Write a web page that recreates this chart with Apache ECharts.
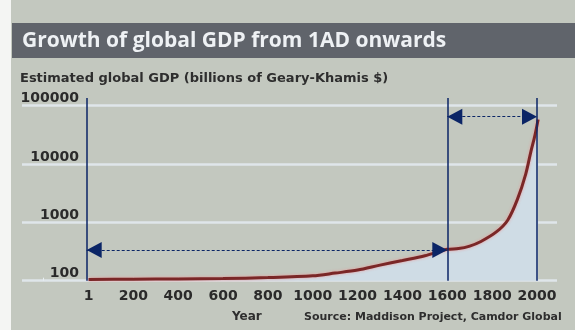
<!DOCTYPE html>
<html>
<head>
<meta charset="utf-8">
<script src="https://cdn.jsdelivr.net/npm/echarts@6/dist/echarts.min.js"></script>
<style>
	html, body { margin: 0; padding: 0; background: #c3c8bf; }
	#container { width: 575px; height: 330px; }
</style>
</head>
<body>
<div id="container"></div>
<script>
// estimated world GDP, billions of Geary-Khamis $
var years = [0, 200, 400, 600, 800, 1000, 1100, 1200, 1300, 1400, 1500, 1600, 1650, 1700, 1750, 1820, 1870, 1913, 1950, 1973, 1990, 2005];
var gdp = [105, 106, 107, 109, 113, 121, 135, 152, 185, 222, 268, 345, 355, 392, 470, 692, 1100, 2500, 6800, 16500, 30000, 58000];
var yTicks = [100, 1000, 10000, 100000];

// annotation lines (year, value)
var vLineYears = [-8, 1600, 2000];
var vLineTop = 135000;
var arrowLow = { from: -8, to: 1600, value: 336 };
var arrowHigh = { from: 1600, to: 2000, value: 64700 };

var navy = '#0b2566';
var fontFam = '"DejaVu Sans", sans-serif';

// one year is 0.22425 px, one decade of GDP is 58.3 px
var pxYear = 0.22425;
var pxDecade = 58.3;
var plotTop = 105.7, plotBottom = 49.3, plotLeft = 88.5, plotRight = 38;

var dom = document.getElementById('container');
var myChart = echarts.init(dom);

var markData = [];
vLineYears.forEach(function (y) {
	markData.push([
		{ coord: [y, 100], symbol: 'none' },
		{ coord: [y, vLineTop], symbol: 'none' }
	]);
});
[arrowLow, arrowHigh].forEach(function (a) {
	markData.push([
		{ coord: [a.from, a.value], lineStyle: { type: [3, 2], width: 1 } },
		{ coord: [a.to, a.value] }
	]);
});

var option = {
	backgroundColor: '#c3c8bf',
	animation: false,
	graphic: [
		{ type: 'rect', left: 0, top: 0, shape: { width: 11, height: 330 }, style: { fill: '#f4f5f3' }, z: -1 },
		{ type: 'rect', left: 12, top: 23, shape: { width: 563, height: 35 }, style: { fill: '#60646b' }, z: -1 }
	],
	title: [
		{
			text: 'Growth of global GDP from 1AD onwards',
			left: 17, top: 26,
			textStyle: { color: '#eef1f4', fontSize: 21, fontWeight: 'bold', fontFamily: '"Open Sans", sans-serif' }
		},
		{
			text: 'Estimated global GDP (billions of Geary-Khamis $)',
			left: 15, top: 67,
			textStyle: { color: '#2e2e2e', fontSize: 13, fontWeight: 'bold', fontFamily: fontFam }
		},
		{
			text: 'Year',
			left: 227, top: 306,
			textStyle: { color: '#2e2e2e', fontSize: 12, fontWeight: 'bold', fontFamily: fontFam }
		},
		{
			text: 'Source: Maddison Project, Camdor Global',
			left: 299, top: 307,
			textStyle: { color: '#2e2e2e', fontSize: 11, fontWeight: 'bold', fontFamily: fontFam }
		}
	],
	grid: [
		{ left: 22, right: 18, top: plotTop, bottom: plotBottom },
		// data grid reaches 200 years left of 1 AD and up to the annotation tops
		{
			left: plotLeft - 200 * pxYear, right: plotRight,
			top: plotTop - Math.log10(vLineTop / 100000) * pxDecade, bottom: plotBottom
		}
	],
	xAxis: [
		{ gridIndex: 0, type: 'value', show: false, min: 0, max: 1 },
		{
			gridIndex: 1, type: 'value', min: -200, max: 2000, interval: 200,
			axisLine: { show: false },
			axisTick: { show: true, inside: true, length: 3, lineStyle: { color: '#e8eef1', width: 1 } },
			splitLine: { show: false },
			axisLabel: {
				margin: 9, color: '#2a2a2a', fontSize: 14, fontWeight: 'bold', fontFamily: fontFam,
				formatter: function (v) { return v < 0 ? '' : (v === 0 ? '1' : String(v)); }
			}
		}
	],
	yAxis: [
		{
			gridIndex: 0, type: 'log', logBase: 10, min: yTicks[0], max: yTicks[yTicks.length - 1],
			axisLine: { show: false },
			axisTick: { show: false },
			splitLine: { show: true, lineStyle: { color: '#dfe6ea', width: 2.5 } },
			axisLabel: {
				inside: true, margin: 57, align: 'right', verticalAlign: 'bottom',
				color: '#2a2a2a', fontSize: 14, fontWeight: 'bold', fontFamily: fontFam,
				showMinLabel: true, showMaxLabel: true,
				formatter: function (v) { return String(Math.round(v)); }
			}
		},
		{ gridIndex: 1, type: 'log', logBase: 10, min: yTicks[0], max: vLineTop, show: false }
	],
	series: [
		{
			type: 'line',
			xAxisIndex: 1, yAxisIndex: 1,
			data: years.map(function (y, i) { return [y, gdp[i]]; }),
			smooth: 0.3,
			showSymbol: false,
			lineStyle: { color: '#7a2727', width: 3, shadowColor: 'rgba(235,150,150,0.9)', shadowBlur: 3 },
			areaStyle: { color: '#cfdce5', origin: 'start', opacity: 1 },
			markLine: {
				silent: true,
				symbol: ['triangle', 'triangle'],
				symbolSize: [16, 15],
				symbolOffset: [[0, 7.5], [0, 7.5]],
				label: { show: false },
				lineStyle: { color: navy, type: 'solid', width: 1.5 },
				itemStyle: { color: navy },
				emphasis: { disabled: true },
				data: markData
			}
		}
	]
};

myChart.setOption(option, true);
</script>
</body>
</html>
